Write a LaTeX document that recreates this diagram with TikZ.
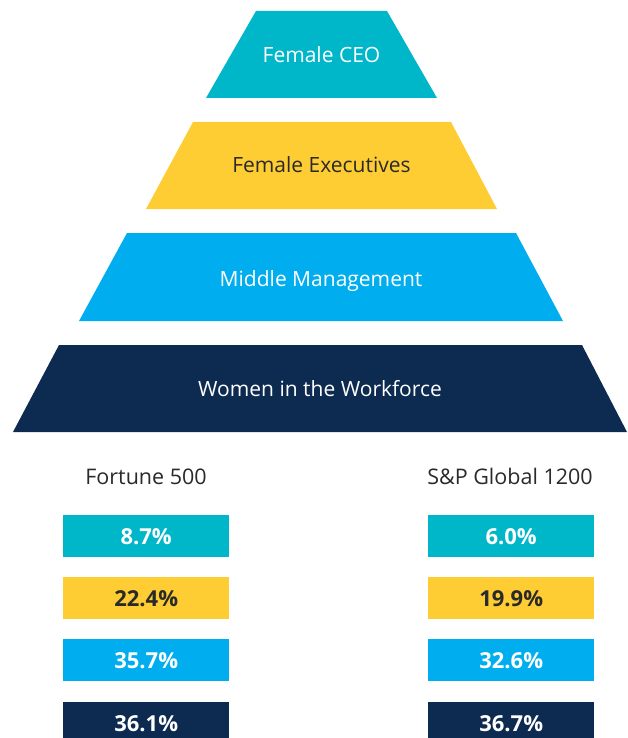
\documentclass[tikz,border=0pt]{standalone}
\usepackage{fontspec}
\setmainfont{Open Sans}
\begin{document}
\definecolor{tealc}{HTML}{00B7CA}
\definecolor{goldc}{HTML}{FECC33}
\definecolor{skyc}{HTML}{00AEEF}
\definecolor{navyc}{HTML}{0D2A50}
\definecolor{inkc}{HTML}{2A2A2A}
\begin{tikzpicture}[x=1pt,y=-1pt,
  tierlabel/.style={font=\fontsize{21}{25}\selectfont, inner sep=0pt, anchor=base},
  headlabel/.style={font=\fontsize{21.5}{25}\selectfont, text=inkc, inner sep=0pt, anchor=base},
  pctbox/.style={minimum width=166pt, minimum height=42pt, inner sep=0pt, anchor=north west,
    font=\fontsize{22}{26}\selectfont\bfseries},
]
\useasboundingbox (0,0) rectangle (628,738);

% pyramid tiers
\fill[tealc] (256,11) -- (387,11) -- (437,98) -- (206,98) -- cycle;
\node[tierlabel, text=white] (ceo) at (321.5,63) {Female CEO};

\fill[goldc] (193,122) -- (451,122) -- (497,209) -- (146,209) -- cycle;
\node[tierlabel, text=inkc] (exec) at (321.5,172) {Female Executives};

\fill[skyc] (127,233) -- (516,233) -- (563,321) -- (79,321) -- cycle;
\node[tierlabel, text=white] (mid) at (321,286) {Middle Management};

\fill[navyc] (59,345) -- (582,345) -- (627,432) -- (13,432) -- cycle;
\node[tierlabel, text=white] (work) at (320,396.5) {Women in the Workforce};

% column headings
\node[headlabel] (f500) at (146,484) {Fortune 500};
\node[headlabel] (sp1200) at (510,484) {S\&P Global 1200};

% Fortune 500 figures
\node[pctbox, fill=tealc, text=white] (f1) at (63,515) {8.7\%};
\node[pctbox, fill=goldc, text=inkc]  (f2) at (63,577) {22.4\%};
\node[pctbox, fill=skyc, text=white]  (f3) at (63,639) {35.7\%};
\node[pctbox, fill=navyc, text=white] (f4) at (63,702) {36.1\%};

% S&P Global 1200 figures
\node[pctbox, fill=tealc, text=white] (s1) at (428,515) {6.0\%};
\node[pctbox, fill=goldc, text=inkc]  (s2) at (428,577) {19.9\%};
\node[pctbox, fill=skyc, text=white]  (s3) at (428,639) {32.6\%};
\node[pctbox, fill=navyc, text=white] (s4) at (428,702) {36.7\%};
\end{tikzpicture}
\end{document}
